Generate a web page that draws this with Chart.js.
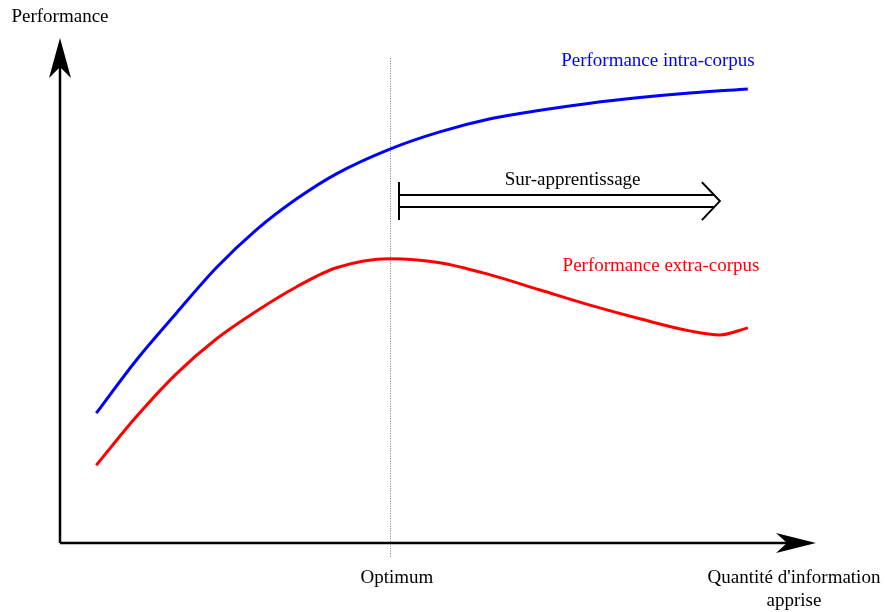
<!DOCTYPE html>
<html lang="fr">
<head>
  <meta charset="UTF-8">
  <title>Sur-apprentissage</title>
  <script src="https://cdn.jsdelivr.net/npm/chart.js@4.4.1/dist/chart.umd.min.js"></script>
  <style>
    html, body { margin: 0; padding: 0; background: #fff; }
    #wrap { width: 887px; height: 612px; }
  </style>
</head>
<body>
  <div id="wrap"><canvas id="myChart" width="887" height="612"></canvas></div>
  <script>
  // données (unités arbitraires, 0..100 sur chaque axe)
  const intraX = [4.8, 10.1, 15.4, 20.7, 26.0, 31.3, 36.6, 43.7, 50.3, 57.0, 63.6, 70.2, 76.8, 83.4, 91.1];
  const intraY = [25.7, 36.2, 45.5, 54.5, 62.0, 68.1, 73.1, 78.0, 81.4, 84.0, 85.7, 87.1, 88.2, 89.1, 89.9];
  const extraX = [4.8, 10.1, 15.4, 20.7, 26.0, 31.3, 36.6, 43.7, 50.3, 57.0, 63.6, 70.2, 76.8, 83.4, 87.4, 91.1];
  const extraY = [15.4, 25.0, 33.5, 40.4, 45.9, 50.7, 54.5, 56.3, 55.5, 53.1, 50.1, 47.1, 44.4, 42.0, 41.2, 42.6];
  const optimumX = 43.7;
  const overfitFrom = 44.9, overfitTo = 87.4, overfitY = 67.7;

  const FONT = '19px "Liberation Serif", serif';

  function pts(xs, ys) { return xs.map((x, i) => ({ x: x, y: ys[i] })); }

  // flèche style "stealth" : pointe en (x,y), direction (dx,dy)
  function arrowHead(ctx, x, y, dx, dy, len, half, notch) {
    const px = -dy, py = dx;
    ctx.beginPath();
    ctx.moveTo(x, y);
    ctx.lineTo(x - dx * len + px * half, y - dy * len + py * half);
    ctx.lineTo(x - dx * notch, y - dy * notch);
    ctx.lineTo(x - dx * len - px * half, y - dy * len - py * half);
    ctx.closePath();
    ctx.fill();
  }

  const decor = {
    id: 'decor',
    beforeDatasetsDraw(chart) {
      const ctx = chart.ctx, sx = chart.scales.x, sy = chart.scales.y;
      ctx.save();
      // ligne pointillée de l'optimum
      const ox = Math.round(sx.getPixelForValue(optimumX)) + 0.5;
      ctx.strokeStyle = '#777';
      ctx.lineWidth = 1;
      ctx.setLineDash([1, 1.5]);
      ctx.beginPath();
      ctx.moveTo(ox, sy.getPixelForValue(96));
      ctx.lineTo(ox, sy.getPixelForValue(-2.8));
      ctx.stroke();
      ctx.restore();
    },
    afterDraw(chart) {
      const ctx = chart.ctx, sx = chart.scales.x, sy = chart.scales.y;
      const x0 = sx.getPixelForValue(0), y0 = sy.getPixelForValue(0);
      const x1 = sx.getPixelForValue(100), y1 = sy.getPixelForValue(100);
      ctx.save();
      ctx.fillStyle = '#000';
      ctx.strokeStyle = '#000';
      ctx.lineWidth = 2.5;
      // axes
      ctx.beginPath();
      ctx.moveTo(x0, y0); ctx.lineTo(x1 - 20, y0);
      ctx.moveTo(x0, y0); ctx.lineTo(x0, y1 + 20);
      ctx.stroke();
      arrowHead(ctx, x1 + 1, y0, 1, 0, 40, 10, 29);
      arrowHead(ctx, x0, y1, 0, -1, 40, 11, 29);

      // flèche double "Sur-apprentissage"
      const ax = sx.getPixelForValue(overfitFrom), bx = sx.getPixelForValue(overfitTo);
      const ay = sy.getPixelForValue(overfitY);
      ctx.lineWidth = 2;
      ctx.beginPath();
      ctx.moveTo(ax, ay - 19); ctx.lineTo(ax, ay + 19);
      ctx.moveTo(ax, ay - 6); ctx.lineTo(bx - 6, ay - 6);
      ctx.moveTo(ax, ay + 6); ctx.lineTo(bx - 6, ay + 6);
      ctx.moveTo(bx - 18, ay - 19); ctx.lineTo(bx, ay); ctx.lineTo(bx - 18, ay + 19);
      ctx.stroke();

      // textes
      ctx.font = FONT;
      ctx.textAlign = 'center';
      ctx.textBaseline = 'alphabetic';
      ctx.fillText('Sur-apprentissage', sx.getPixelForValue(67.9), sy.getPixelForValue(71.9) + 5);
      ctx.fillText('Performance', x0, 22);
      ctx.fillText('Optimum', sx.getPixelForValue(optimumX) + 7, y0 + 40);
      ctx.fillText("Quantité d'information", x1 - 21, y0 + 40);
      ctx.fillText('apprise', x1 - 21, y0 + 63);
      ctx.fillStyle = '#0000ff';
      ctx.fillText('Performance intra-corpus', sx.getPixelForValue(79.2), sy.getPixelForValue(95.6) + 6);
      ctx.fillStyle = '#ff0000';
      ctx.fillText('Performance extra-corpus', sx.getPixelForValue(79.6), sy.getPixelForValue(55.0) + 6);
      ctx.restore();
    }
  };

  const ctx = document.getElementById('myChart').getContext('2d');
  new Chart(ctx, {
    type: 'line',
    data: {
      datasets: [{
        label: 'Performance intra-corpus',
        data: pts(intraX, intraY),
        borderColor: '#0000ff',
        borderWidth: 3,
        pointRadius: 0,
        cubicInterpolationMode: 'monotone',
        fill: false
      }, {
        label: 'Performance extra-corpus',
        data: pts(extraX, extraY),
        borderColor: '#ff0000',
        borderWidth: 3,
        pointRadius: 0,
        cubicInterpolationMode: 'monotone',
        fill: false
      }]
    },
    options: {
      responsive: false,
      animation: false,
      layout: { padding: { left: 60, right: 72, top: 38, bottom: 69 } },
      scales: {
        x: { type: 'linear', min: 0, max: 100, display: false },
        y: { type: 'linear', min: 0, max: 100, display: false }
      },
      plugins: {
        legend: { display: false },
        tooltip: { enabled: false }
      }
    },
    plugins: [decor]
  });
  </script>
</body>
</html>
